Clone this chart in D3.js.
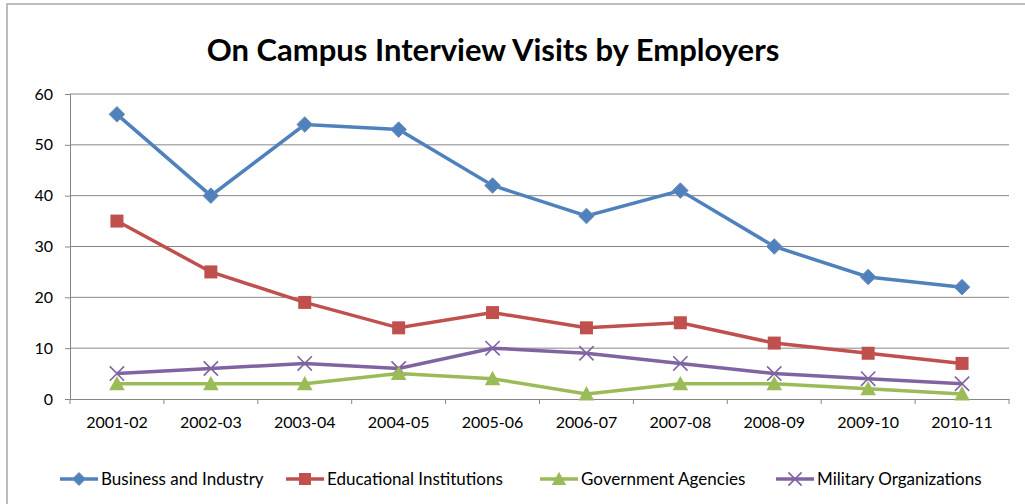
<!DOCTYPE html>
<html>
<head>
<meta charset="utf-8">
<script src="https://cdn.jsdelivr.net/npm/d3@7"></script>
<style>
body { margin: 0; background: #fff; }
text { font-family: Lato, "Open Sans", sans-serif; fill: #000; }
</style>
</head>
<body>
<div id="chart"></div>
<script>
var years = ["2001-02", "2002-03", "2003-04", "2004-05", "2005-06", "2006-07", "2007-08", "2008-09", "2009-10", "2010-11"];
var business = [56, 40, 54, 53, 42, 36, 41, 30, 24, 22];
var education = [35, 25, 19, 14, 17, 14, 15, 11, 9, 7];
var government = [3, 3, 3, 5, 4, 1, 3, 3, 2, 1];
var military = [5, 6, 7, 6, 10, 9, 7, 5, 4, 3];
var yTicks = [0, 10, 20, 30, 40, 50, 60];

var series = [
    { name: "Business and Industry", values: business, color: "#4F81BD", shape: "diamond" },
    { name: "Educational Institutions", values: education, color: "#C0504D", shape: "square" },
    { name: "Government Agencies", values: government, color: "#9BBB59", shape: "triangle" },
    { name: "Military Organizations", values: military, color: "#8064A2", shape: "cross" }
];

var W = 1025, H = 504;
var plot = { left: 70, right: 1009, top: 94, bottom: 399 };

var svg = d3.select("#chart").append("svg")
    .attr("width", W).attr("height", H);

// chart border
svg.append("rect")
    .attr("x", 7).attr("y", 4)
    .attr("width", W + 20).attr("height", H + 20)
    .attr("fill", "none").attr("stroke", "#a6a6a6").attr("stroke-width", 1.5);

svg.append("text")
    .attr("x", 493).attr("y", 61)
    .attr("text-anchor", "middle")
    .style("font-size", "31px").style("font-weight", "bold")
    .text("On Campus Interview Visits by Employers");

var x = d3.scaleBand().domain(years).range([plot.left, plot.right]);
var y = d3.scaleLinear().domain([0, 60]).range([plot.bottom, plot.top]);

// gridlines
svg.append("g").selectAll("line")
    .data(yTicks.filter(function (d) { return d > 0; }))
    .enter().append("line")
    .attr("x1", plot.left).attr("x2", plot.right)
    .attr("y1", function (d) { return y(d); })
    .attr("y2", function (d) { return y(d); })
    .attr("stroke", "#868686").attr("stroke-width", 1);

// y axis
var yAxis = svg.append("g")
    .attr("transform", "translate(" + plot.left + ",0)")
    .call(d3.axisLeft(y).tickValues(yTicks).tickSize(5).tickPadding(12));
yAxis.selectAll("text").style("font-size", "16px").style("font-family", "Lato, 'Open Sans', sans-serif");

// x axis
var xAxis = svg.append("g")
    .attr("transform", "translate(0," + plot.bottom + ")")
    .call(d3.axisBottom(x).tickSize(0).tickPadding(18));
xAxis.selectAll("text").style("font-size", "16px").style("font-family", "Lato, 'Open Sans', sans-serif");
// x ticks at band boundaries
xAxis.selectAll(".bound")
    .data(years.concat(["end"]))
    .enter().append("line")
    .attr("class", "bound")
    .attr("x1", function (d, i) { return plot.left + i * x.step(); })
    .attr("x2", function (d, i) { return plot.left + i * x.step(); })
    .attr("y1", 0).attr("y2", 5)
    .attr("stroke", "#868686");

svg.selectAll(".domain").attr("stroke", "#868686");
svg.selectAll(".tick line").attr("stroke", "#868686");

var line = d3.line()
    .x(function (d, i) { return x(years[i]) + x.bandwidth() / 2; })
    .y(function (d) { return y(d); });

function marker(g, shape, color, cx, cy, s) {
    if (shape === "diamond") {
        g.append("path")
            .attr("d", "M" + cx + "," + (cy - s * 0.65) + "L" + (cx + s * 0.65) + "," + cy + "L" + cx + "," + (cy + s * 0.65) + "L" + (cx - s * 0.65) + "," + cy + "Z")
            .attr("fill", color).attr("stroke", "#6f8fb5").attr("stroke-width", 1);
    } else if (shape === "square") {
        g.append("rect")
            .attr("x", cx - s / 2).attr("y", cy - s / 2)
            .attr("width", s).attr("height", s)
            .attr("fill", color);
    } else if (shape === "triangle") {
        g.append("path")
            .attr("d", "M" + cx + "," + (cy - s * 0.6) + "L" + (cx + s * 0.6) + "," + (cy + s * 0.5) + "L" + (cx - s * 0.6) + "," + (cy + s * 0.5) + "Z")
            .attr("fill", color);
    } else {
        var r = s * 0.55;
        g.append("path")
            .attr("d", "M" + (cx - r) + "," + (cy - r) + "L" + (cx + r) + "," + (cy + r) + "M" + (cx - r) + "," + (cy + r) + "L" + (cx + r) + "," + (cy - r))
            .attr("stroke", color).attr("stroke-width", 1.6).attr("fill", "none");
    }
}

// draw back to front so the first series sits on top
series.slice().reverse().forEach(function (s) {
    var g = svg.append("g");
    g.append("path")
        .datum(s.values)
        .attr("d", line)
        .attr("fill", "none")
        .attr("stroke", s.color)
        .attr("stroke-width", 3.5);
    s.values.forEach(function (v, i) {
        marker(g, s.shape, s.color, x(years[i]) + x.bandwidth() / 2, y(v), s.shape === "diamond" ? 12 : 13);
    });
});

// legend
var legendX = [60, 286, 540, 776];
series.forEach(function (s, i) {
    var g = svg.append("g");
    var lx = legendX[i], ly = 479;
    g.append("line")
        .attr("x1", lx).attr("x2", lx + 38)
        .attr("y1", ly).attr("y2", ly)
        .attr("stroke", s.color).attr("stroke-width", 3.5);
    marker(g, s.shape, s.color, lx + 19, ly, s.shape === "diamond" ? 10 : 12);
    g.append("text")
        .attr("x", lx + 41).attr("y", ly + 6)
        .style("font-size", "17px")
        .text(s.name);
});
</script>
</body>
</html>
